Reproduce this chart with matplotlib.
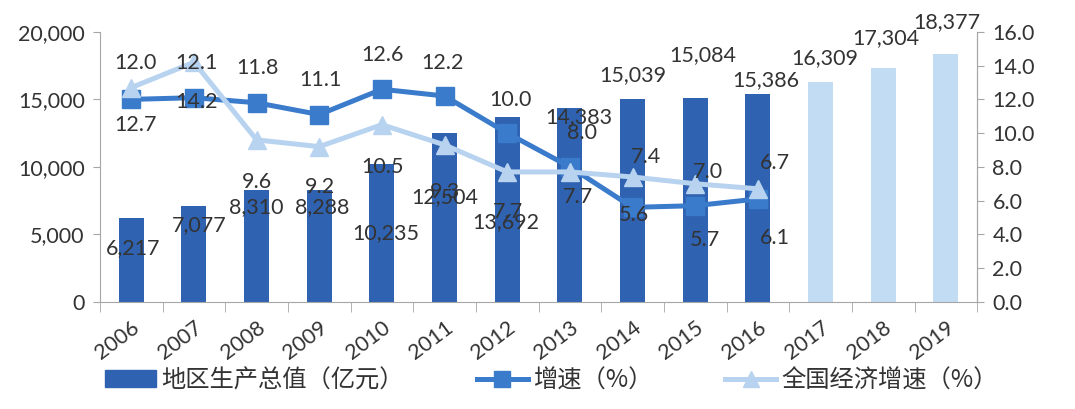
import matplotlib.pyplot as plt
import matplotlib.patches as mpatches
import matplotlib.lines as mlines
import numpy as np

plt.rcParams['font.family'] = ['Lato', 'Noto Sans CJK SC', 'DejaVu Sans']

years = ['2006', '2007', '2008', '2009', '2010', '2011', '2012',
         '2013', '2014', '2015', '2016', '2017', '2018', '2019']
gdp = [6217, 7077, 8310, 8288, 10235, 12504, 13692,
       14383, 15039, 15084, 15386, 16309, 17304, 18377]
n_actual = 11  # 2006-2016 actual, 2017-2019 forecast
growth = [12.0, 12.1, 11.8, 11.1, 12.6, 12.2, 10.0, 8.0, 5.6, 5.7, 6.1]
national = [12.7, 14.2, 9.6, 9.2, 10.5, 9.3, 7.7, 7.7, 7.4, 7.0, 6.7]

legend_labels = ['地区生产总值（亿元）', '增速（%）', '全国经济增速（%）']

# label offsets in pixels (dx, dy)
bar_off = [(2, -30), (5, -19), (0, -17), (3, -17), (4, -69), (0, -64), (-1, -105),
           (9, -9), (0, 24), (8, 43), (8, 14), (4, 24), (3, 30), (1, 32)]
sq_off = [(4, 36), (3, 35), (1, 35), (1, 35), (1, 34), (-2, 33), (3, 33),
          (12, 34), (1, -8), (10, -34), (17, -39)]
tri_off = [(4, -37), (3, -40), (0, -42), (1, -40), (1, -42), (0, -47), (1, -40),
           (8, -25), (13, 20), (13, 12), (17, 26)]

c_dark = '#2F62B0'
c_light = '#C2DDF3'
c_line = '#3B7BCB'
c_tri = '#B8D3F0'
c_axis = '#A6A6A6'
c_text = '#333333'

fig = plt.figure(figsize=(10.75, 4.09), dpi=100)
ax = fig.add_axes([0.093, 0.262, 0.816, 0.660])
ax2 = ax.twinx()

x = np.arange(len(years))
colors = [c_dark] * n_actual + [c_light] * (len(years) - n_actual)
ax.bar(x, gdp, width=0.4, color=colors, zorder=2)

ax.set_xlim(-0.5, len(years) - 0.5)
ax.set_ylim(0, 20000)
ax2.set_ylim(0, 16)
ax.set_yticks(np.arange(0, 20001, 5000))
ax.set_yticklabels([f'{v:,}' for v in range(0, 20001, 5000)])
ax2.set_yticks(np.arange(0, 16.1, 2))
ax2.set_yticklabels([f'{v:.1f}' for v in np.arange(0, 16.1, 2)])

ax.set_xticks(x)
ax.set_xticklabels(years, rotation=37, ha='right', rotation_mode='anchor')
ax.set_xticks(np.arange(-0.5, len(years)), minor=True)
ax.tick_params(axis='x', which='major', length=0, pad=11, labelsize=15.5, labelcolor=c_text)
ax.tick_params(axis='x', which='minor', length=7, color=c_axis, direction='out')
ax.tick_params(axis='y', length=5, color=c_axis, labelsize=15.5, labelcolor=c_text, pad=6)
ax2.tick_params(axis='y', length=5, color=c_axis, labelsize=15.5, labelcolor=c_text, pad=6)

for a in (ax, ax2):
    a.spines['top'].set_visible(False)
    for s in ('left', 'right', 'bottom'):
        a.spines[s].set_color(c_axis)
ax2.spines['left'].set_visible(False)
ax2.spines['bottom'].set_visible(False)

xl = x[:n_actual]
ax2.plot(xl, growth, color=c_line, lw=3.6, marker='s', markersize=13,
         markerfacecolor=c_line, markeredgecolor=c_line, zorder=3)
ax2.plot(xl, national, color=c_tri, lw=3.6, marker='^', markersize=13,
         markerfacecolor=c_tri, markeredgecolor=c_tri, zorder=4)

px = 0.72  # pixels to points at 100 dpi
for i, v in enumerate(gdp):
    dx, dy = bar_off[i]
    ax2.annotate(f'{v:,}', xy=(x[i], v), xycoords=ax.transData,
                 xytext=(dx * px, dy * px), textcoords='offset points',
                 ha='center', va='center', fontsize=15.5, color=c_text, zorder=6)
for i, v in enumerate(growth):
    dx, dy = sq_off[i]
    ax2.annotate(f'{v:.1f}', xy=(xl[i], v), xytext=(dx * px, dy * px),
                 textcoords='offset points', ha='center', va='center',
                 fontsize=15.5, color=c_text, zorder=6)
for i, v in enumerate(national):
    dx, dy = tri_off[i]
    ax2.annotate(f'{v:.1f}', xy=(xl[i], v), xytext=(dx * px, dy * px),
                 textcoords='offset points', ha='center', va='center',
                 fontsize=15.5, color=c_text, zorder=6)

handles = [
    mpatches.Patch(color=c_dark),
    mlines.Line2D([], [], color=c_line, lw=3.6, marker='s', markersize=11),
    mlines.Line2D([], [], color=c_tri, lw=3.6, marker='^', markersize=11),
]
fig.legend(handles, legend_labels, loc='lower center', bbox_to_anchor=(0.513, -0.015),
           ncol=3, frameon=False, handlelength=2.1, handletextpad=0.2,
           columnspacing=3.0, prop={'family': ['Noto Sans CJK SC'], 'size': 17.5},
           labelcolor=c_text)

fig.savefig('out.png', dpi=100)
